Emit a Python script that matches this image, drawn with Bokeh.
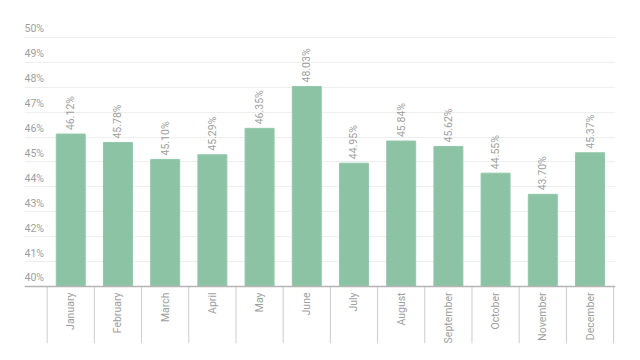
from math import pi
from bokeh.plotting import figure
from bokeh.models import Range1d, FixedTicker
from bokeh.core.properties import value
from bokeh.embed import file_html
from bokeh.resources import INLINE

months = ["January", "February", "March", "April", "May", "June", "July",
          "August", "September", "October", "November", "December"]
rates = [46.12, 45.78, 45.10, 45.29, 46.35, 48.03, 44.95, 45.84, 45.62, 44.55, 43.70, 45.37]
y_ticks = [40, 41, 42, 43, 44, 45, 46, 47, 48, 49, 50]
y_tick_labels = [f"{t}%" for t in y_ticks]
rate_labels = [f"{v:.2f}%" for v in rates]

xs = list(range(len(months)))
bounds = [i - 0.5 for i in range(len(months) + 1)]

x_start, x_end = -0.98, 11.54
y_base = 40
y_start, y_end = 37.71, 50.68

FONT = "Roboto"
GREY = "#9e9e9e"
FS = "10.5px"

p = figure(width=632, height=352, output_backend="svg", toolbar_location=None,
           x_range=Range1d(x_start, x_end), y_range=Range1d(y_start, y_end),
           x_axis_location=None, y_axis_location=None,
           min_border_left=24, min_border_right=17, min_border_top=20, min_border_bottom=9)
p.outline_line_color = None
p.background_fill_color = "white"
p.border_fill_color = "white"

p.ygrid.ticker = FixedTicker(ticks=y_ticks)
p.ygrid.grid_line_color = "#eeeeee"
p.xgrid.visible = False

# category separators below the baseline
p.segment(x0=bounds, y0=[y_start] * len(bounds), x1=bounds, y1=[y_base] * len(bounds),
          line_color="#cccccc", line_width=1)

p.vbar(x=xs, top=rates, bottom=y_base, width=0.614, fill_color="#8cc3a5", line_color="#93c8ab")

# baseline axis line
p.segment(x0=[x_start], y0=[y_base], x1=[x_end], y1=[y_base], line_color="#b5b5b5", line_width=1.5)

p.text(x=xs, y=rates, text=rate_labels, angle=pi / 2, text_align="left", text_baseline="middle",
       y_offset=-4, text_font=value(FONT), text_font_size=FS, text_color=GREY)

p.text(x=[x_start] * len(y_ticks), y=y_ticks, text=y_tick_labels, text_align="left",
       text_baseline="bottom", y_offset=-2, text_font=value(FONT), text_font_size=FS,
       text_color=GREY)

p.text(x=xs, y=[y_base] * len(xs), text=months, angle=pi / 2, text_align="right",
       text_baseline="middle", y_offset=6, text_font=value(FONT), text_font_size=FS,
       text_color=GREY)

open("out.html", "w").write(file_html(p, INLINE))
